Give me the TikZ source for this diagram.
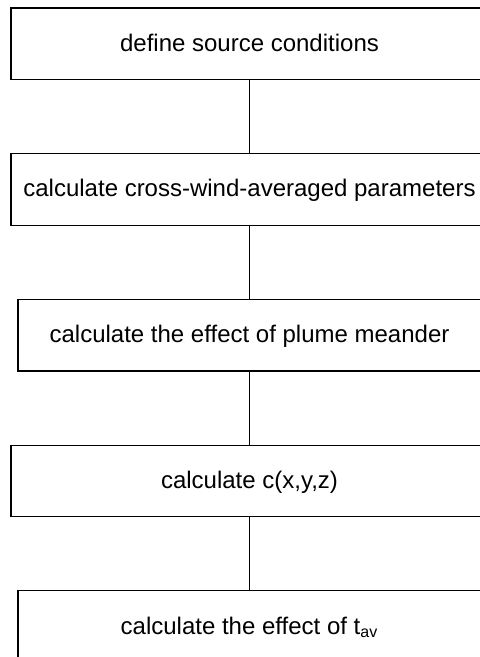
\documentclass[tikz,border=0pt]{standalone}
\usepackage{fontspec}
\setmainfont{Liberation Sans}
\usetikzlibrary{positioning}
\tikzset{
  stepwide/.style={rectangle, draw=black, line width=0.6pt, minimum width=238.5pt, minimum height=35.75pt, text height=9pt, text depth=1.5pt, inner sep=0pt, font=\fontsize{12}{14}\selectfont},
  stepnarrow/.style={stepwide, minimum width=231.5pt},
  link/.style={line width=0.6pt}
}

\begin{document}
\begin{tikzpicture}[node distance=36.5pt]
    \useasboundingbox (0,0) rectangle (240pt,-328.5pt);
    \clip (0,0) rectangle (240pt,-328.5pt);
    % Nodes
    \node[stepwide] (source) at (124.75pt,-21.875pt) {define source conditions};
    \node[stepwide, below=of source] (crosswind) {calculate cross-wind-averaged parameters};
    \node[stepnarrow, below=of crosswind] (meander) {calculate the effect of plume meander};
    \node[stepwide, below=of meander] (conc) {calculate c(x,y,z)};
    \node[stepnarrow, below=of conc] (tav) {calculate the effect of t\textsubscript{av}};

    % Lines
    \draw[link] (source) -- (crosswind);
    \draw[link] (crosswind) -- (meander);
    \draw[link] (meander) -- (conc);
    \draw[link] (conc) -- (tav);
\end{tikzpicture}
\end{document}
